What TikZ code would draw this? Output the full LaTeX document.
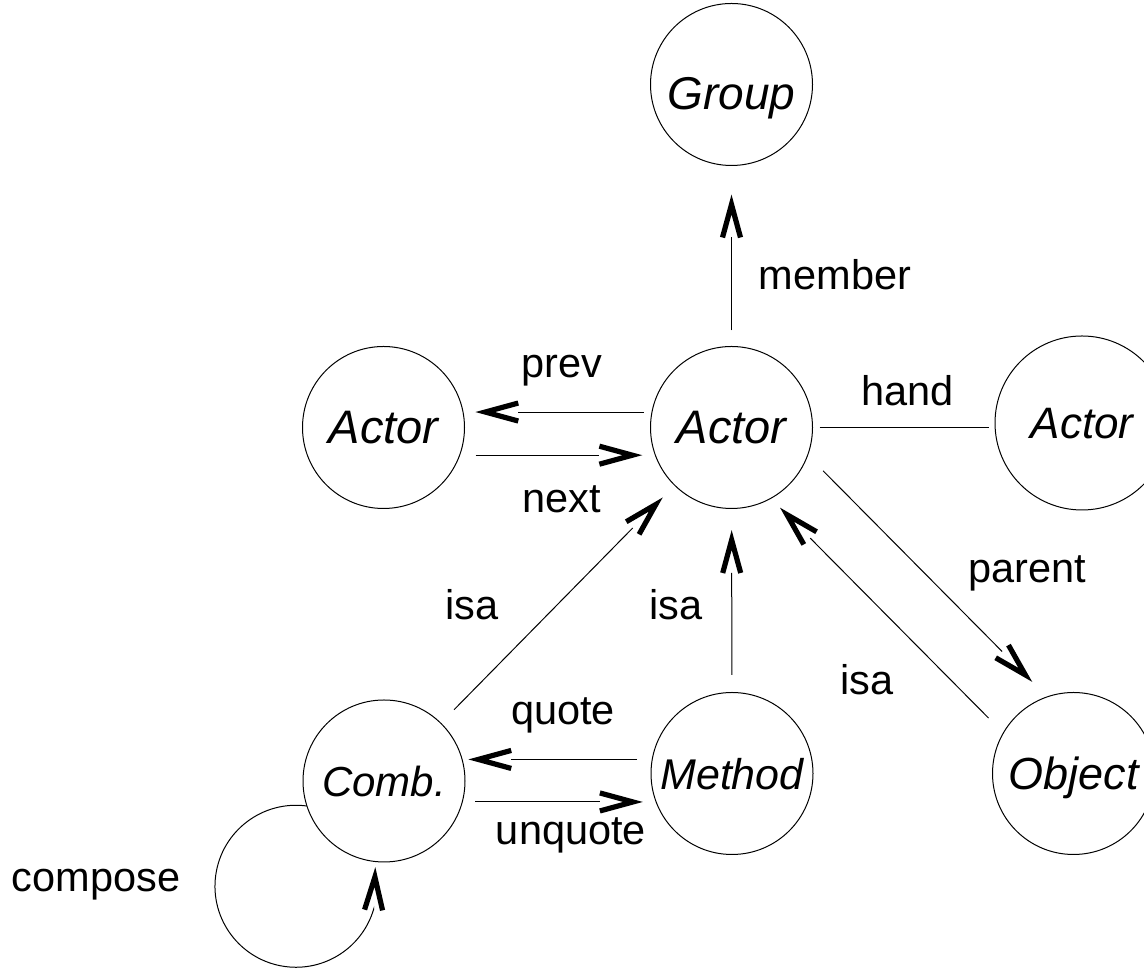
\documentclass[tikz,border=0pt]{standalone}
\usepackage{fontspec}
\setmainfont{Liberation Sans}
\usetikzlibrary{calc}

\pgfdeclarearrow{
  name = OV,
  setup code = {
    \pgfarrowssettipend{0pt}
    \pgfarrowssetlineend{-43pt}
    \pgfarrowssetbackend{-43pt}
    \pgfarrowsupperhullpoint{-43pt}{12pt}
    \pgfarrowsupperhullpoint{0pt}{0pt}
  },
  drawing code = {
    \pgfsetdash{}{0pt}
    \pgfsetlinewidth{5.2pt}
    \pgfsetbuttcap
    \pgfsetmiterjoin
    \pgfpathmoveto{\pgfpoint{-43pt}{9pt}}
    \pgfpathlineto{\pgfpoint{-10pt}{0pt}}
    \pgfpathlineto{\pgfpoint{-43pt}{-9pt}}
    \pgfusepathqstroke
  }
}

\begin{document}
\begin{tikzpicture}[x=1pt,y=1pt,
  state/.style={circle, draw, line width=1pt, minimum size=162pt, inner sep=0pt, outer sep=0pt, text depth=0pt},
  conn/.style={line width=1pt, -OV},
  plain/.style={line width=1pt},
  lab/.style={anchor=base, font=\fontsize{41.5}{41.5}\selectfont, inner sep=0pt},
]
\useasboundingbox (0,0) rectangle (1144,968);
\node[state, text height=51pt, font=\fontsize{46}{46}\selectfont\itshape] (g) at (731.5,883.5) {Group};
\node[state, font=\fontsize{47}{47}\selectfont\itshape] (a) at (731.5,540.5) {Actor};
\node[state, font=\fontsize{47}{47}\selectfont\itshape] (la) at (383.5,540.5) {Actor};
\node[state, minimum size=174pt, font=\fontsize{44}{44}\selectfont\itshape] (ra) at (1082,545) {Actor};
\node[state, font=\fontsize{45}{45}\selectfont\itshape] (o) at (1073.5,194.5) {Object};
\node[state, font=\fontsize{42}{42}\selectfont\itshape] (c) at (384,187) {Comb.};
\node[state, font=\fontsize{43}{43}\selectfont\itshape] (m) at (732,194.5) {Method};

\draw[conn, shorten <=16pt, shorten >=29pt] (a) -- (g);
\draw[conn, shorten <=8pt, shorten >=12pt] (a.169.7) -- (la.10.3 |- a.169.7);
\draw[conn, shorten <=16pt, shorten >=13pt] (la.-20.6) -- (a.200.6 |- la.-20.6);
\draw[plain, shorten <=7pt, shorten >=6pt] (a.east) -- (ra.183 |- a.east);
\draw[conn, shorten <=22pt, shorten >=21pt] (a.-20.5) -- (o.109.9);
\draw[conn, shorten <=21pt, shorten >=13pt] (o.150.4) -- (a.-61);
\draw[conn, shorten <=17.5pt, shorten >=21.5pt] (m) -- (a);
\draw[conn, shorten <=19pt, shorten >=17pt] (c) -- (a);
\draw[conn, shorten <=15pt, shorten >=6pt] (m.170.4) -- (c.15 |- m.170.4);
\draw[conn, shorten <=13pt, shorten >=13pt] (c.-15) -- (m.200.6 |- c.-15);
\draw[conn, shorten >=5.5pt] (c.198.7) arc[start angle=82.2, end angle=343.4, radius=81] -- (c.-96);

\node[lab] (lmember) at (835,678) {member};
\node[lab] (lprev) at (562,590) {prev};
\node[lab] (lnext) at (561.5,455) {next};
\node[lab] (lhand) at (907.5,562) {hand};
\node[lab] (lparent) at (1027,385) {parent};
\node[lab] (lisa1) at (472,348) {isa};
\node[lab] (lisa2) at (676,348) {isa};
\node[lab] (lisa3) at (867,273) {isa};
\node[lab] (lquote) at (563,243) {quote};
\node[lab] (lunquote) at (571,123) {unquote};
\node[lab] (lcompose) at (96,76) {compose};
\end{tikzpicture}
\end{document}
